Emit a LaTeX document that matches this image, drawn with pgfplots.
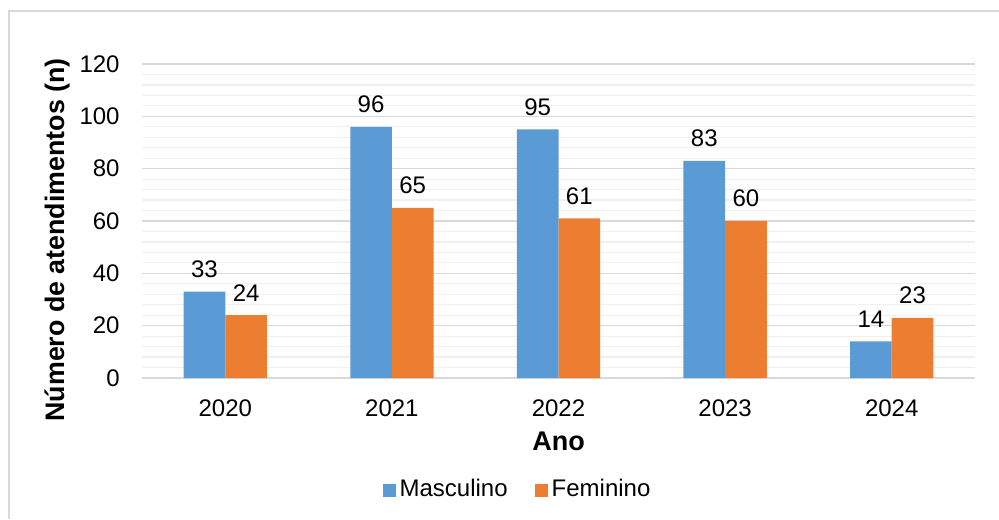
\documentclass[border=0pt]{standalone}
\usepackage{pgfplots}
\pgfplotsset{compat=1.18}
\usepackage{fontspec}
\setmainfont{Liberation Sans}
\definecolor{cblue}{HTML}{5B9BD5}
\definecolor{corange}{HTML}{ED7D31}
\definecolor{gmaj}{HTML}{D9D9D9}
\definecolor{gmin}{HTML}{F0F0F0}
\begin{document}
\fontsize{12}{14.4}\selectfont
\begin{tikzpicture}
\useasboundingbox (0,0) rectangle (499.5pt,259.5pt);
\draw[gmaj, line width=0.75pt] (4.5pt,0) -- (4.5pt,254pt) -- (499.5pt,254pt);
\begin{axis}[
  at={(71pt,70.5pt)}, anchor=south west,
  scale only axis, width=416.5pt, height=157pt,
  ybar=0pt, bar width=0.25,
  xmin=-0.5, xmax=4.5, ymin=0, ymax=120,
  xtick={0,1,2,3,4}, xticklabels={2020,2021,2022,2023,2024},
  ytick={0,20,...,120},
  minor y tick num=4,
  ymajorgrids, yminorgrids,
  major grid style={gmaj, line width=0.6pt},
  minor grid style={gmin, line width=0.6pt},
  axis line style={draw=none},
  major tick length=0pt, minor tick length=0pt,
  /pgf/number format/assume math mode=true,
  yticklabel style={xshift=-7pt},
  xticklabel style={yshift=-6.5pt},
  xlabel={\textbf{Ano}},
  ylabel={\textbf{Número de atendimentos (n)}},
  xlabel style={at={(axis description cs:0.5,-0.2006)}, anchor=center, font=\fontsize{13.5}{16}\selectfont},
  ylabel style={at={(axis description cs:-0.102,0.44)}, anchor=center, font=\fontsize{13.4}{16}\selectfont},
  nodes near coords,
  every node near coord/.append style={yshift=2.8pt, /pgf/number format/assume math mode=true},
  legend style={at={(0.452,-0.357)}, anchor=center, draw=none, legend columns=2,
    /tikz/every even column/.append style={column sep=11.5pt}},
  legend image code/.code={\fill[#1] (0pt,-3.25pt) rectangle (6.5pt,3.25pt);},
]
\addplot[fill=cblue, draw=none] coordinates {(0,33) (1,96) (2,95) (3,83) (4,14)};
\addplot[fill=corange, draw=none] coordinates {(0,24) (1,65) (2,61) (3,60) (4,23)};
\legend{Masculino, Feminino}
\end{axis}
\end{tikzpicture}
\end{document}
